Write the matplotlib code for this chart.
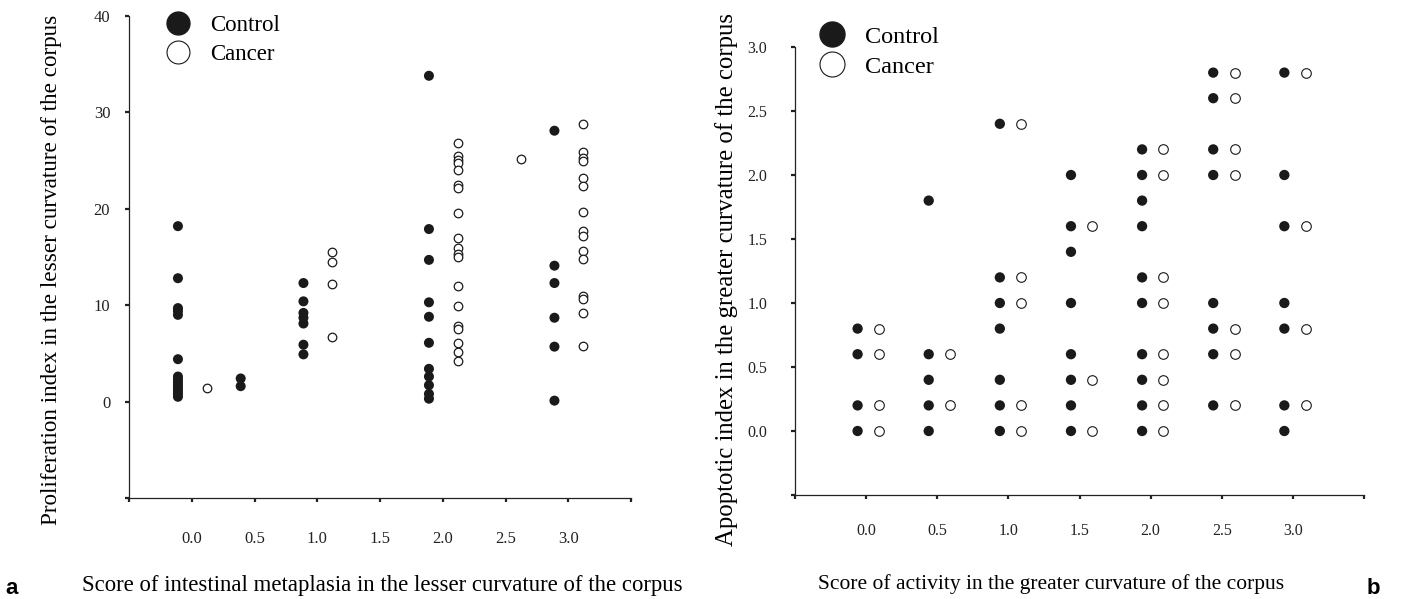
import matplotlib
matplotlib.use("Agg")
import matplotlib.pyplot as plt
from matplotlib.lines import Line2D

plt.rcParams['font.family'] = ['Liberation Serif', 'DejaVu Serif']

# ---- panel a: proliferation index vs intestinal metaplasia score ----
pi_ctrl_scores = [0.0, 0.5, 1.0, 2.0, 3.0]
pi_ctrl = [
    [18.2, 12.8, 9.7, 9.4, 9.0, 4.4, 2.6, 2.3, 2.0, 1.7, 1.4, 1.1, 0.8, 0.5],
    [2.4, 1.6],
    [12.3, 10.4, 9.2, 8.7, 8.1, 5.9, 4.9],
    [33.8, 17.9, 14.7, 10.3, 8.8, 6.1, 3.4, 2.6, 1.7, 0.8, 0.3],
    [28.1, 14.1, 12.3, 8.7, 5.7, 0.1],
]
pi_canc_scores = [0.0, 1.0, 2.0, 2.5, 3.0]
pi_canc = [
    [1.4],
    [15.5, 14.5, 12.2, 6.7],
    [26.8, 25.5, 25.1, 24.7, 24.0, 22.5, 22.2, 19.6, 17.0, 15.9, 15.3,
     15.0, 12.0, 9.9, 7.8, 7.5, 6.1, 5.1, 4.2],
    [25.2],
    [28.8, 25.9, 25.3, 25.0, 23.2, 22.4, 19.7, 17.7, 17.2, 15.6, 14.8,
     11.0, 10.6, 9.2, 5.8],
]

# ---- panel b: apoptotic index vs activity score ----
ai_scores = [0.0, 0.5, 1.0, 1.5, 2.0, 2.5, 3.0]
ai_ctrl = [
    [0.8, 0.6, 0.2, 0.0],
    [1.8, 0.6, 0.4, 0.2, 0.0],
    [2.4, 1.2, 1.0, 0.8, 0.4, 0.2, 0.0],
    [2.0, 1.6, 1.4, 1.0, 0.6, 0.4, 0.2, 0.0],
    [2.2, 2.0, 1.8, 1.6, 1.2, 1.0, 0.6, 0.4, 0.2, 0.0],
    [2.8, 2.6, 2.2, 2.0, 1.0, 0.8, 0.6, 0.2],
    [2.8, 2.0, 1.6, 1.0, 0.8, 0.2, 0.0],
]
ai_canc = [
    [0.8, 0.6, 0.2, 0.0],
    [0.6, 0.2],
    [2.4, 1.2, 1.0, 0.2, 0.0],
    [1.6, 0.4, 0.0],
    [2.2, 2.0, 1.2, 1.0, 0.6, 0.4, 0.2, 0.0],
    [2.8, 2.6, 2.2, 2.0, 0.8, 0.6, 0.2],
    [2.8, 1.6, 0.8, 0.2],
]

W, H = 1410, 599
fig = plt.figure(figsize=(W / 100, H / 100), dpi=100)

def px_axes(x0, y_top, x1, y_bot):
    return fig.add_axes([x0 / W, 1 - y_bot / H, (x1 - x0) / W, (y_bot - y_top) / H])

ax1 = px_axes(129, 16, 631, 498)
ax2 = px_axes(795, 47, 1364, 495)


def scatter_groups(ax, scores, groups, dx, filled, s, lw):
    for sc, vals in zip(scores, groups):
        xs = [sc + dx] * len(vals)
        if filled:
            ax.scatter(xs, vals, s=s, c='#1a1a1a', edgecolors='none', zorder=3, clip_on=False)
        else:
            ax.scatter(xs, vals, s=s, facecolors='white', edgecolors='#1a1a1a',
                       linewidths=lw, zorder=3, clip_on=False)


scatter_groups(ax1, pi_ctrl_scores, pi_ctrl, -0.11, True, 52, 0)
scatter_groups(ax1, pi_canc_scores, pi_canc, 0.12, False, 38, 0.9)
scatter_groups(ax2, ai_scores, ai_ctrl, -0.06, True, 55, 0)
scatter_groups(ax2, ai_scores, ai_canc, 0.09, False, 48, 0.8)

xt = [-0.5, 0.0, 0.5, 1.0, 1.5, 2.0, 2.5, 3.0, 3.5]
xtl = ['', '0.0', '0.5', '1.0', '1.5', '2.0', '2.5', '3.0', '']

for ax in (ax1, ax2):
    for side in ('top', 'right'):
        ax.spines[side].set_visible(False)
    for side in ('left', 'bottom'):
        ax.spines[side].set_linewidth(0.9)
        ax.spines[side].set_color('#222222')
    ax.set_xlim(-0.5, 3.5)
    ax.set_xticks(xt)
    ax.set_xticklabels(xtl)
    ax.tick_params(axis='both', direction='out', length=3, width=1.6,
                   labelsize=12, colors='#222222')

ax1.set_ylim(-10, 40)
ax1.set_yticks([-10, 0, 10, 20, 30, 40])
ax1.set_yticklabels(['', '0', '10', '20', '30', '40'])
ax1.tick_params(axis='y', pad=10.5)
ax1.tick_params(axis='x', pad=21)

ax2.set_ylim(-0.5, 3.0)
ax2.set_yticks([-0.5, 0.0, 0.5, 1.0, 1.5, 2.0, 2.5, 3.0])
ax2.set_yticklabels(['', '0.0', '0.5', '1.0', '1.5', '2.0', '2.5', '3.0'])
ax2.tick_params(axis='y', labelsize=11.5, pad=17)
ax2.tick_params(axis='x', labelsize=11.5, pad=17.5)


def add_legend(ax, msize, fs, x0, y0, tpad, lsp):
    handles = [
        Line2D([], [], ls='none', marker='o', markersize=msize,
               markerfacecolor='#1a1a1a', markeredgecolor='#1a1a1a'),
        Line2D([], [], ls='none', marker='o', markersize=msize,
               markerfacecolor='white', markeredgecolor='#1a1a1a', markeredgewidth=0.8),
    ]
    ax.legend(handles, ['Control', 'Cancer'], loc='upper left',
              bbox_to_anchor=(x0, y0), frameon=False, fontsize=fs,
              handlelength=1.0, handletextpad=tpad, labelspacing=lsp,
              borderpad=0, borderaxespad=0)


add_legend(ax1, 16.5, 16.5, 0.075, 1.003, 0.9, 0.36)
add_legend(ax2, 18, 17.5, 0.044, 1.047, 0.86, 0.32)

fig.text(52 / W, 1 - 270 / H, 'Proliferation index in the lesser curvature of the corpus',
         rotation=90, ha='center', va='center', fontsize=16.7)
fig.text(727 / W, 1 - 280 / H, 'Apoptotic index in the greater curvature of the corpus',
         rotation=90, ha='center', va='center', fontsize=17.8)
fig.text(382 / W, 1 - 586 / H, 'Score of intestinal metaplasia in the lesser curvature of the corpus',
         ha='center', va='center', fontsize=16.4)
fig.text(1051 / W, 1 - 584 / H, 'Score of activity in the greater curvature of the corpus',
         ha='center', va='center', fontsize=15.5)
fig.text(12 / W, 1 - 588 / H, 'a', ha='center', va='center', fontsize=16,
         fontweight='bold', family='Liberation Sans')
fig.text(1373 / W, 1 - 588 / H, 'b', ha='center', va='center', fontsize=16,
         fontweight='bold', family='Liberation Sans')

fig.savefig('out.png', dpi=100)
